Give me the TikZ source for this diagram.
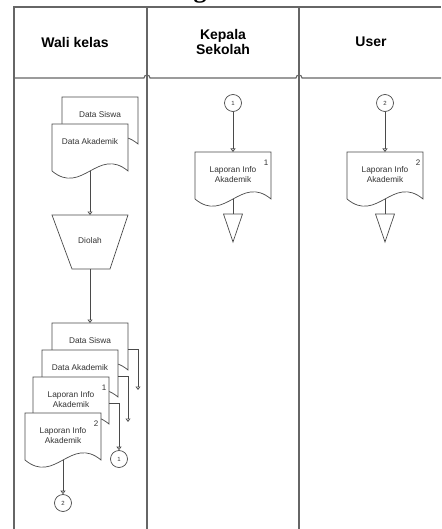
\documentclass[tikz,border=0pt]{standalone}
\usepackage{fontspec}
\setmainfont{Liberation Sans}
\newfontfamily\judulfont{Liberation Serif}
\usetikzlibrary{arrows.meta}

\definecolor{abu}{HTML}{4A4A4A}
\definecolor{lajurabu}{HTML}{666666}

\newcommand{\dokumen}[5][]{%
	\begin{scope}[shift={(#3,#4)}]
		\draw[garis, fill=white] (0,0) -- (76,0) -- (76,47) .. controls (46,22) and (30,72) .. (0,47) -- cycle;
		\coordinate (#2-atas) at (38,0);
		\coordinate (#2-bawah) at (38,47);
		\coordinate (#2-kanan) at (76,26);
		\node[teks, anchor=north] (#2) at (38,14) {#5};
		\node[nomor] (#2-no) at (71,11) {#1};
	\end{scope}
}

\begin{document}
\begin{tikzpicture}[x=1pt, y=-1pt,
		lajur/.style={draw=lajurabu, line width=1.1pt},
		garis/.style={draw=abu, line width=0.7pt},
		panah/.style={garis, -{Triangle[open, length=3.5pt, width=5pt]}},
		teks/.style={text=black!80, font=\fontsize{8.3}{10.5}\selectfont, align=center, inner sep=0pt},
		nomor/.style={text=black!80, font=\fontsize{8}{9}\selectfont, inner sep=0pt},
		judulkolom/.style={font=\bfseries\fontsize{14}{15}\selectfont, align=center},
		konektor/.style={garis, circle, minimum size=17pt, inner sep=0pt, text=black!80, font=\fontsize{6}{7}\selectfont}]
	\useasboundingbox (0,0) rectangle (441,529);
	\clip (0,0) rectangle (441,529);
	
	\node[font=\judulfont\bfseries\fontsize{26}{26}\selectfont, anchor=base] (judul) at (200,-2) {g};
	
	\begin{scope}[lajur]
		\draw (14,529) -- (14,7) -- (441,7);
		\draw (147,7) -- (147,529);
		\draw (299,7) -- (299,529);
		\draw (14,78) -- (144,78) arc[start angle=180, end angle=0, radius=3pt]
			-- (296,78) arc[start angle=180, end angle=0, radius=3pt] -- (441,78);
	\end{scope}
	
	\node[judulkolom] (waliKelas) at (75,42) {Wali kelas};
	\node[judulkolom] (kepalaSekolah) at (223,42) {Kepala\\Sekolah};
	\node[judulkolom] (user) at (371,42) {User};
	
	\dokumen{siswaA}{62}{97}{Data Siswa}
	\dokumen{akademikA}{52}{124}{Data Akademik}
	
	\draw[garis] (52,215) -- (128,215) -- (110,269) -- (72,269) -- cycle;
	\coordinate (diolah-atas) at (90,215);
	\coordinate (diolah-bawah) at (90,269);
	\node[teks] (diolah) at (90,241) {Diolah};
	
	\draw[panah] (akademikA-bawah) -- (diolah-atas);
	
	\dokumen{siswaB}{52}{323}{Data Siswa}
	\dokumen{akademikB}{42}{350}{Data Akademik}
	\dokumen[1]{laporanA}{33}{377}{Laporan Info\\Akademik}
	\dokumen[2]{laporanB}{25}{413}{Laporan Info\\Akademik}
	
	\draw[panah] (diolah-bawah) -- (siswaB-atas);
	
	\coordinate (ujungSiswa) at (138,390);
	\coordinate (ujungAkademik) at (128,422);
	\node[konektor] (keKepala) at (119,459) {1};
	\node[konektor] (keUser) at (63,503) {2};
	
	\draw[panah] (siswaB-kanan) -| (ujungSiswa);
	\draw[panah] (akademikB-kanan) -| (ujungAkademik);
	\draw[panah] (laporanA-kanan) -| (keKepala.north);
	\draw[panah] (laporanB-bawah) -- (keUser.north);
	
	% kepala sekolah
	\node[konektor] (dariWali1) at (233,103) {1};
	\dokumen[1]{laporanKepala}{195}{152}{Laporan Info\\Akademik}
	\draw[panah] (dariWali1) -- (laporanKepala-atas);
	\coordinate (arsipKepala) at (233,214);
	\draw[garis] (laporanKepala-bawah) -- (arsipKepala);
	\draw[garis] (arsipKepala) ++(-9.5,0) -- ++(19,0) -- ++(-9.5,28) -- cycle;
	
	% user
	\node[konektor] (dariWali2) at (385,103) {2};
	\dokumen[2]{laporanUser}{347}{152}{Laporan Info\\Akademik}
	\draw[panah] (dariWali2) -- (laporanUser-atas);
	\coordinate (arsipUser) at (385,214);
	\draw[garis] (laporanUser-bawah) -- (arsipUser);
	\draw[garis] (arsipUser) ++(-9.5,0) -- ++(19,0) -- ++(-9.5,28) -- cycle;
\end{tikzpicture}
\end{document}
